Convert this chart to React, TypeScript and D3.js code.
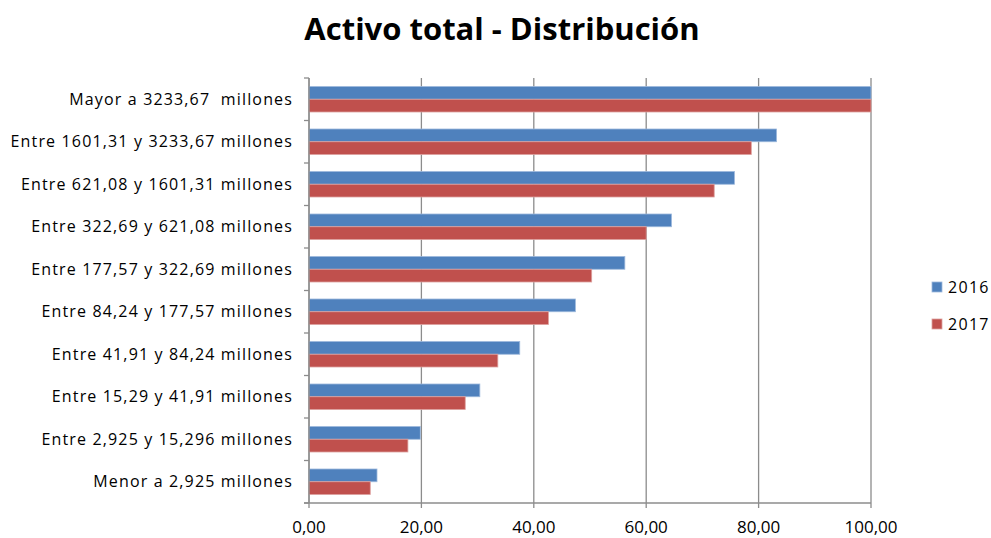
import React from "react";
import * as d3 from "d3";

const categories = [
  "Mayor a 3233,67  millones",
  "Entre 1601,31 y 3233,67 millones",
  "Entre 621,08 y 1601,31 millones",
  "Entre 322,69 y 621,08 millones",
  "Entre 177,57 y 322,69 millones",
  "Entre 84,24 y 177,57 millones",
  "Entre 41,91 y 84,24 millones",
  "Entre 15,29 y 41,91 millones",
  "Entre 2,925 y 15,296 millones",
  "Menor a 2,925 millones",
];
const values2016 = [100, 83.2, 75.7, 64.5, 56.2, 47.4, 37.5, 30.4, 19.8, 12.1];
const values2017 = [100, 78.7, 72.1, 60.0, 50.3, 42.6, 33.6, 27.8, 17.6, 10.9];
const seriesNames = ["2016", "2017"];
const xTicks = [0, 20, 40, 60, 80, 100];
const colors = ["#4F81BD", "#C0504D"];
const strokes = ["#9DB8DC", "#DDA09E"];

export default function App() {
  const W = 991, H = 538;
  const left = 309, right = 871, top = 78, bottom = 503;
  const x = d3.scaleLinear().domain([0, 100]).range([left, right]);
  const y = d3.scaleBand<string>().domain(categories).range([top, bottom]).paddingInner(0.4).paddingOuter(0.2);
  const inner = d3.scaleBand<string>().domain(seriesNames).range([0, y.bandwidth()]);
  const series = [values2016, values2017];
  const fmt = (v: number) => v.toFixed(2).replace(".", ",");
  const step = (bottom - top) / categories.length;
  const font = "'Open Sans', 'Noto Sans', sans-serif";
  return (
    <svg width={W} height={H} style={{ position: "absolute", left: 0, top: 0, background: "#fff" }}>
      <text x={502} y={40} textAnchor="middle" fontFamily={font} fontWeight="bold" fontSize={31} fill="#000">
        Activo total - Distribución
      </text>
      {xTicks.map((t) => (
        <line key={"g" + t} x1={x(t)} x2={x(t)} y1={top} y2={bottom + 5} stroke="#8c8c8c" strokeWidth={1.3} />
      ))}
      {categories.map((c, i) =>
        series.map((s, j) => (
          <rect
            key={c + j}
            x={x(0)}
            y={(y(c) as number) + (inner(seriesNames[j]) as number)}
            width={x(s[i]) - x(0)}
            height={inner.bandwidth()}
            fill={colors[j]}
            stroke={strokes[j]}
            strokeWidth={0.8}
          />
        ))
      )}
      <line x1={left} x2={left} y1={top} y2={bottom} stroke="#8c8c8c" strokeWidth={1.3} />
      <line x1={left - 5} x2={right} y1={bottom} y2={bottom} stroke="#8c8c8c" strokeWidth={1.3} />
      {d3.range(categories.length + 1).map((k) => (
        <line key={"t" + k} x1={left - 5} x2={left} y1={top + k * step} y2={top + k * step} stroke="#8c8c8c" strokeWidth={1.3} />
      ))}
      {categories.map((c) => (
        <text key={"l" + c} x={293} y={(y(c) as number) + y.bandwidth() / 2} dy="0.35em" textAnchor="end" fontFamily={font} fontSize={16} letterSpacing={1.15} fill="#000" style={{ whiteSpace: "pre" }}>
          {c}
        </text>
      ))}
      {xTicks.map((t) => (
        <text key={"x" + t} x={x(t)} y={527} dy="0.35em" textAnchor="middle" fontFamily={font} fontSize={17} fill="#000">
          {fmt(t)}
        </text>
      ))}
      {seriesNames.map((n, j) => (
        <g key={n} transform={`translate(932, ${287 + j * 37})`}>
          <rect x={0} y={-5} width={10} height={10} fill={colors[j]} stroke={strokes[j]} strokeWidth={0.8} />
          <text x={16} y={0} dy="0.35em" fontFamily={font} fontSize={16} letterSpacing={1.3} fill="#000">
            {n}
          </text>
        </g>
      ))}
    </svg>
  );
}
